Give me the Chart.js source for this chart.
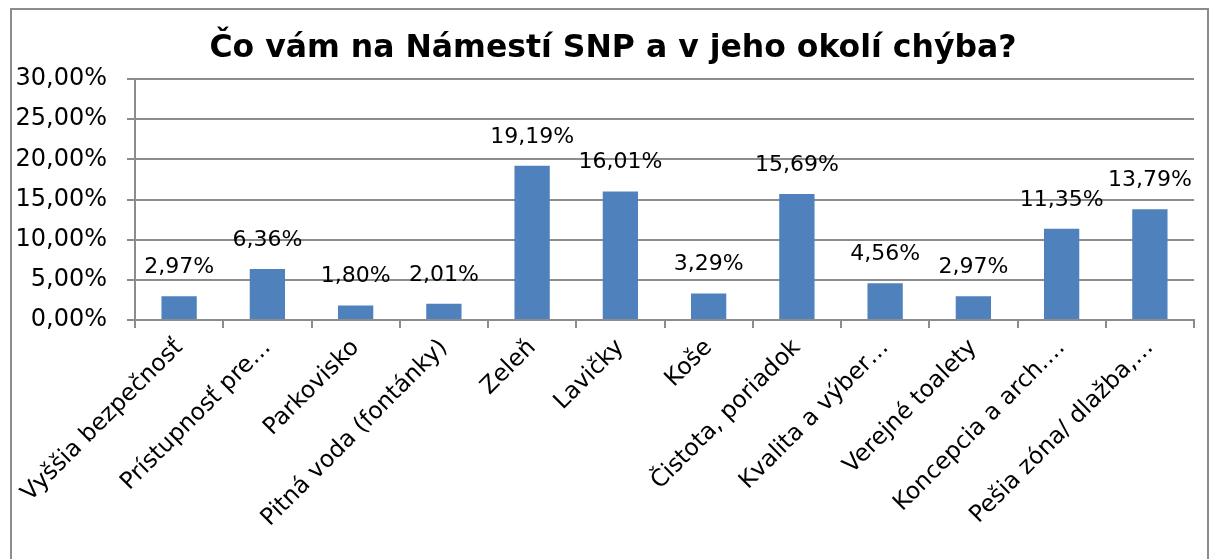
<!DOCTYPE html>
<html>
<head>
<meta charset="utf-8">
<script src="https://cdn.jsdelivr.net/npm/chart.js@4/dist/chart.umd.min.js"></script>
<style>
  html, body { margin: 0; padding: 0; background: #fff; overflow: hidden; }
  #frame {
    position: absolute; left: 10px; top: 8px; width: 1199px; height: 600px;
    border: 2px solid #8c8c8c; box-sizing: border-box;
  }
  #title {
    position: absolute; left: 0; top: 28px; width: 1226px; text-align: center;
    font: bold 31.5px "DejaVu Sans", sans-serif; color: #000;
  }
  #wrap { position: absolute; left: 0; top: 0; width: 1216px; height: 559px; }
</style>
</head>
<body>
<div id="frame"></div>
<div id="wrap"><canvas id="chart" width="1216" height="559"></canvas></div>
<div id="title">Čo vám na Námestí SNP a v jeho okolí chýba?</div>
<script>
// ===== DATA =====
const categories = [
  'Vyššia bezpečnosť', 'Prístupnosť pre…', 'Parkovisko', 'Pitná voda (fontánky)',
  'Zeleň', 'Lavičky', 'Koše', 'Čistota, poriadok', 'Kvalita a výber…',
  'Verejné toalety', 'Koncepcia a arch.…', 'Pešia zóna/ dlažba,…'
];
const shares = [2.97, 6.36, 1.80, 2.01, 19.19, 16.01, 3.29, 15.69, 4.56, 2.97, 11.35, 13.79];
const yTicks = [0, 5, 10, 15, 20, 25, 30];

const FONT = '"DejaVu Sans", sans-serif';
const fmt = v => v.toFixed(2).replace('.', ',') + '%';

// ===== VALUE LABELS =====
const valueLabels = {
  id: 'valueLabels',
  afterDatasetsDraw(chart) {
    const ctx = chart.ctx;
    const meta = chart.getDatasetMeta(0);
    ctx.save();
    ctx.font = '22px ' + FONT;
    ctx.fillStyle = '#000';
    ctx.textAlign = 'center';
    ctx.textBaseline = 'middle';
    meta.data.forEach((bar, i) => {
      ctx.fillText(fmt(shares[i]), bar.x, bar.y - 29);
    });
    ctx.restore();
  }
};

document.addEventListener('DOMContentLoaded', () => {
  new Chart(document.getElementById('chart'), {
    type: 'bar',
    data: {
      labels: categories,
      datasets: [{
        data: shares,
        backgroundColor: '#4f81bd',
        categoryPercentage: 1,
        barPercentage: 0.4
      }]
    },
    plugins: [valueLabels],
    options: {
      responsive: false,
      animation: false,
      layout: { padding: { top: 79, right: 22, left: 0, bottom: 0 } },
      plugins: { legend: { display: false }, tooltip: { enabled: false } },
      scales: {
        x: {
          afterFit: s => { s.height = 239; },
          grid: { offset: true, drawOnChartArea: false, tickLength: 8, color: '#8c8c8c', lineWidth: 2 },
          border: { color: '#8c8c8c', width: 2 },
          ticks: {
            autoSkip: false, maxRotation: 45, minRotation: 45, color: '#000',
            font: { family: FONT, size: 23.5 }, padding: 6
          }
        },
        y: {
          min: 0, max: 30,
          afterFit: s => { s.width = 135; },
          afterBuildTicks: s => { s.ticks = yTicks.map(v => ({ value: v })); },
          grid: { color: '#8c8c8c', lineWidth: 2, tickLength: 8 },
          border: { color: '#8c8c8c', width: 2 },
          ticks: {
            color: '#000', padding: 20,
            font: { family: FONT, size: 24 },
            callback: v => fmt(v)
          }
        }
      }
    }
  });
});
</script>
</body>
</html>
